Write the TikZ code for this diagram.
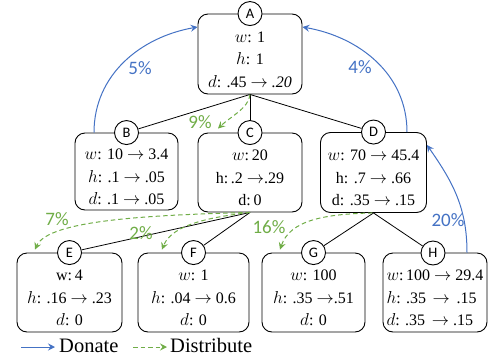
\documentclass[tikz,border=0pt]{standalone}
\usepackage{fontspec}
\setmainfont{Liberation Serif}
\newfontfamily\carlito{Carlito}
\usetikzlibrary{arrows.meta}
\definecolor{donateblue}{HTML}{4472C4}
\definecolor{distgreen}{HTML}{70AD47}
% strut that lowers the three text lines inside a box
\newcommand\firstline{\rule{0pt}{22pt}}
\tikzset{
  box/.style={draw, line width=0.9pt, rounded corners=10pt, align=center,
    inner sep=0pt, font=\fontsize{16}{22.5}\selectfont},
  tag/.style={circle, draw, line width=0.9pt, fill=white, minimum size=24pt,
    inner sep=0pt, font=\carlito\fontsize{14.5}{14.5}\selectfont},
  tree/.style={line width=0.8pt},
  donate/.style={draw=donateblue, line width=1pt,
    -{Stealth[length=7pt,width=7pt,inset=2.5pt]}},
  distribute/.style={draw=distgreen, line width=1pt, dash pattern=on 4.5pt off 3pt,
    -{Stealth[length=7pt,width=7pt,inset=2.5pt]}},
  bluepct/.style={text=donateblue, font=\carlito\fontsize{19}{19}\selectfont, inner sep=0pt},
  greenpct/.style={text=distgreen, font=\carlito\fontsize{19}{19}\selectfont, inner sep=0pt},
  legend/.style={font=\fontsize{20.5}{20.5}\selectfont, inner sep=0pt}
}
\begin{document}
\begin{tikzpicture}[x=1pt,y=1pt]
\useasboundingbox (0,0) rectangle (490,-362);

% boxes
\node[box, minimum width=104pt, minimum height=80pt] (A) at (250,-54)
  {\firstline$w$: 1\\ $h$: 1\\ $d$: .45 $\to$ \textit{.20}};
\node[box, minimum width=103pt, minimum height=77pt] (B) at (126.5,-171.5)
  {\firstline$w$: 10 $\to$ 3.4\\ $h$: .1 $\to$ .05\\ $d$: .1 $\to$ .05};
\node[box, minimum width=104pt, minimum height=79pt] (C) at (250,-172.5)
  {\firstline$w$:\,20\\ h:\,.2 $\to$.29\\ d:\,0};
\node[box, minimum width=106pt, minimum height=80pt] (D) at (373.5,-172.5)
  {\firstline$w$: 70 $\to$ 45.4\\ h: .7 $\to$ .66\\ d: .35 $\to$ .15};
\node[box, minimum width=105pt, minimum height=79pt] (E) at (69.5,-292.5)
  {\firstline w:\,4\\ $h$: .16 $\to$ .23\\ $d$: 0};
\node[box, minimum width=111pt, minimum height=79pt] (F) at (193.5,-292.5)
  {\firstline$w$: 1\\ $h$: .04 $\to$ 0.6\\ $d$: 0};
\node[box, minimum width=103pt, minimum height=79pt] (G) at (313.5,-292.5)
  {\firstline$w$: 100\\ $h$: .35 $\to$.51\\ $d$: 0};
\node[box, minimum width=104pt, minimum height=79pt, align=left] (H) at (435,-292.5)
  {\firstline$w$:\,100 $\to$ 29.4\\ $h$: .35 \,$\to$\, .15\\ $d$: .35 \,$\to$ .15};

% letter tags on the box tops
\node[tag] (Al) at (A.north) {A};
\node[tag] (Bl) at (B.north) {B};
\node[tag] (Cl) at (C.north) {C};
\node[tag] (Dl) at (D.north) {D};
\node[tag] (El) at (E.north) {E};
\node[tag] (Fl) at (F.north) {F};
\node[tag] (Gl) at (G.north) {G};
\node[tag] (Hl) at (433,-253) {H};

% tree connectors
\draw[tree] (A.south) -- (Bl);
\draw[tree] (A.south) -- (Cl);
\draw[tree] (A.south) -- (Dl);
\draw[tree] (C.south) -- (El);
\draw[tree] (C.south) -- (Fl);
\draw[tree] (D.south) -- (Gl);
\draw[tree] (D.south) -- (Hl);

% donations
\draw[donate] ([xshift=-32.5pt]B.north) to[out=90,in=190] ([yshift=27pt]A.west);
\draw[donate] ([xshift=33.5pt]D.north) to[out=90,in=-10] ([yshift=27pt]A.east);
\draw[donate] ([xshift=32pt]H.north) to[out=90,in=-55] ([yshift=27.5pt]D.east);

% distributions
\draw[distribute] (A.south) .. controls (249,-108) and (230,-117) ..
  ([xshift=-32pt,yshift=4pt]C.north);
\draw[distribute] (C.south) .. controls (150,-215) and (48,-220) ..
  ([xshift=-34.5pt,yshift=3pt]E.north);
\draw[distribute] (C.south) .. controls (212,-217) and (172,-224) ..
  ([xshift=-31.5pt,yshift=3pt]F.north);
\draw[distribute] ([xshift=-1pt]D.south) .. controls (325,-214) and (290,-220) ..
  ([xshift=-33.5pt,yshift=3pt]G.north);

% percentages
\node[bluepct] (p5) at (140,-68) {5\%};
\node[bluepct] (p4) at (360,-67) {4\%};
\node[bluepct] (p20) at (448,-220) {20\%};
\node[greenpct] (p9) at (200,-122) {9\%};
\node[greenpct] (p7) at (57,-219) {7\%};
\node[greenpct] (p2) at (141,-233) {2\%};
\node[greenpct] (p16) at (269,-227) {16\%};

% legend
\coordinate (d1) at (21,-347);
\coordinate (d2) at (55,-347);
\draw[donate] (d1) -- (d2);
\node[legend, anchor=base west] (don) at (59,-352) {Donate};
\coordinate (s1) at (133,-347);
\coordinate (s2) at (167,-347);
\draw[distribute] (s1) -- (s2);
\node[legend, anchor=base west] (dis) at (170,-352) {Distribute};
\end{tikzpicture}
\end{document}
